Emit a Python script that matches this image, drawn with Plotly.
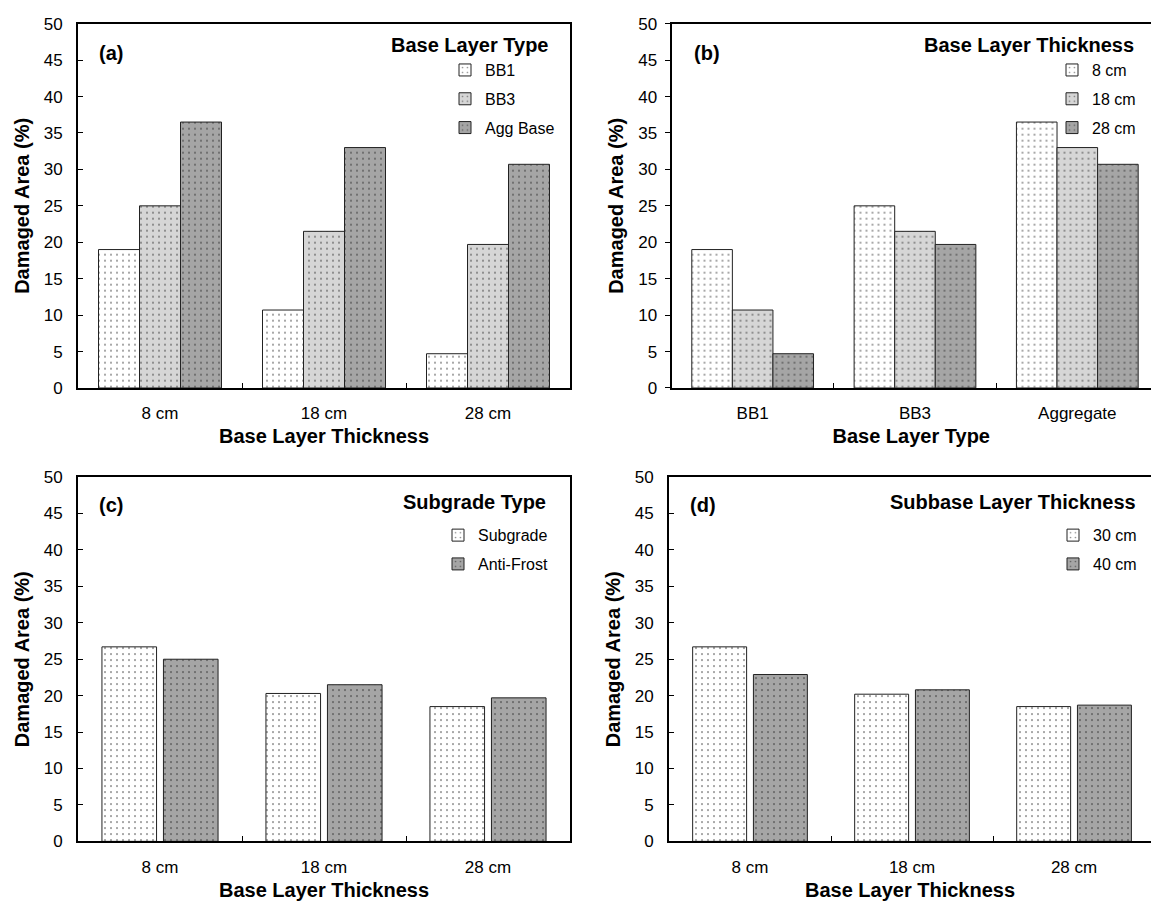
import plotly.graph_objects as go

# ---- data -------------------------------------------------------------
thickness = ["8 cm", "18 cm", "28 cm"]
base_types = ["BB1", "BB3", "Aggregate"]

# (a) damaged area by base layer type, grouped by thickness
a_bb1 = [19.0, 10.7, 4.7]
a_bb3 = [25.0, 21.5, 19.7]
a_agg = [36.5, 33.0, 30.7]

# (b) damaged area by thickness, grouped by base layer type
b_8cm = [19.0, 25.0, 36.5]
b_18cm = [10.7, 21.5, 33.0]
b_28cm = [4.7, 19.7, 30.7]

# (c) subgrade type
c_subgrade = [26.7, 20.3, 18.5]
c_antifrost = [25.0, 21.5, 19.7]

# (d) subbase layer thickness
d_30cm = [26.7, 20.2, 18.5]
d_40cm = [22.9, 20.8, 18.7]

y_ticks = list(range(0, 51, 5))

# ---- styling ----------------------------------------------------------
FONT = "Liberation Sans, Arial, sans-serif"
W, H = 1151, 916
WHITE, LIGHT, DARK = "#ffffff", "#d6d6d6", "#a5a5a5"


def px_x(p):
    return p / W


def px_y(p):
    return 1 - p / H


def bar(x, y, name, color, xaxis, yaxis, legend, group):
    return go.Bar(
        x=x, y=y, name=name, xaxis=xaxis, yaxis=yaxis, legend=legend,
        legendgroup=group,
        marker=dict(
            color=color,
            line=dict(color="#222222", width=1),
            pattern=dict(shape=".", fillmode="overlay", fgcolor="#1a1a1a",
                         bgcolor=color, size=6, solidity=0.09),
        ),
        hoverinfo="x+y+name",
    )


fig = go.Figure()

# (a)
fig.add_trace(bar(thickness, a_bb1, "BB1", WHITE, "x", "y", "legend", "a1"))
fig.add_trace(bar(thickness, a_bb3, "BB3", LIGHT, "x", "y", "legend", "a2"))
fig.add_trace(bar(thickness, a_agg, "Agg Base", DARK, "x", "y", "legend", "a3"))
# (b)
fig.add_trace(bar(base_types, b_8cm, "8 cm", WHITE, "x2", "y2", "legend2", "b1"))
fig.add_trace(bar(base_types, b_18cm, "18 cm", LIGHT, "x2", "y2", "legend2", "b2"))
fig.add_trace(bar(base_types, b_28cm, "28 cm", DARK, "x2", "y2", "legend2", "b3"))
# (c)
fig.add_trace(bar(thickness, c_subgrade, "Subgrade", WHITE, "x3", "y3", "legend3", "c1"))
fig.add_trace(bar(thickness, c_antifrost, "Anti-Frost", DARK, "x3", "y3", "legend3", "c2"))
# (d)
fig.add_trace(bar(thickness, d_30cm, "30 cm", WHITE, "x4", "y4", "legend4", "d1"))
fig.add_trace(bar(thickness, d_40cm, "40 cm", DARK, "x4", "y4", "legend4", "d2"))

tick_font = dict(family=FONT, size=17, color="#000000")
title_font = dict(family=FONT, size=20, color="#000000")


def xaxis(domain, rng, anchor, title):
    return dict(
        domain=domain, range=rng, anchor=anchor, type="category",
        showline=True, linecolor="#000000", linewidth=2, mirror=True,
        ticks="inside", ticklen=5, tickwidth=1, tickcolor="#000000",
        tickson="boundaries", tickfont=tick_font, showgrid=False,
        zeroline=False, ticklabelstandoff=9,
        title=dict(text="<b>" + title + "</b>", font=title_font, standoff=7),
        fixedrange=True,
    )


def yaxis(domain, anchor, ticks, mirror):
    return dict(
        domain=domain, range=[0, 50], anchor=anchor,
        tickvals=y_ticks, showline=True, linecolor="#000000", linewidth=2,
        mirror=mirror, ticks=ticks, ticklen=5, tickwidth=1,
        tickcolor="#000000", tickfont=tick_font, showgrid=False,
        zeroline=False, ticklabelstandoff=4 if ticks == "outside" else 10,
        title=dict(text="<b>Damaged Area (%)</b>", font=title_font, standoff=9),
        fixedrange=True,
    )


top_row = [px_y(387), px_y(15)]
bot_row = [px_y(850), px_y(478)]
left_col = [px_x(78), px_x(570)]

fig.update_layout(
    width=W, height=H,
    margin=dict(l=0, r=0, t=0, b=0),
    paper_bgcolor="#ffffff", plot_bgcolor="#ffffff",
    font=dict(family=FONT, color="#000000"),
    barmode="group",
    bargap=0.25, bargroupgap=0.0,
    xaxis=xaxis(left_col, [-0.5, 2.5], "y", "Base Layer Thickness"),
    yaxis=yaxis(top_row, "x", "inside", True),
    xaxis2=xaxis([px_x(671.5), 1.0], [-0.5, 2.454], "y2", "Base Layer Type"),
    yaxis2=yaxis(top_row, "x2", "outside", False),
    xaxis3=xaxis(left_col, [-0.5, 2.5], "y3", "Base Layer Thickness"),
    yaxis3=yaxis(bot_row, "x3", "inside", True),
    xaxis4=xaxis([px_x(669), 1.0], [-0.5, 2.475], "y4", "Base Layer Thickness"),
    yaxis4=yaxis(bot_row, "x4", "inside", False),
    showlegend=True,
)

legend_common = dict(
    font=dict(family=FONT, size=16, color="#000000"),
    bgcolor="rgba(0,0,0,0)", borderwidth=0,
    traceorder="grouped", tracegroupgap=5,
    xanchor="left", yanchor="top", itemclick=False, itemdoubleclick=False,
)
fig.update_layout(
    legend=dict(x=px_x(445), y=px_y(45), **legend_common),
    legend2=dict(x=px_x(1052), y=px_y(45), **legend_common),
    legend3=dict(x=px_x(438), y=px_y(520), **legend_common),
    legend4=dict(x=px_x(1053), y=px_y(520), **legend_common),
)

# group-width differs between the three-series and two-series panels
for t in fig.data:
    if t.xaxis in ("x3", "x4"):
        t.width = 0.333

# panel labels and headings
notes = [
    ("(a)", px_x(97), px_y(45), "left"),
    ("(b)", px_x(692), px_y(45), "left"),
    ("(c)", px_x(97), px_y(507), "left"),
    ("(d)", px_x(688), px_y(506), "left"),
    ("Base Layer Type", px_x(551), px_y(37), "right"),
    ("Base Layer Thickness", px_x(1136), px_y(37), "right"),
    ("Subgrade Type", px_x(548), px_y(503), "right"),
    ("Subbase Layer Thickness", px_x(1138), px_y(503), "right"),
]
for text, x, y, anchor in notes:
    fig.add_annotation(
        text="<b>" + text + "</b>", x=x, y=y, xref="paper", yref="paper",
        xanchor=anchor, yanchor="middle", showarrow=False,
        font=dict(family=FONT, size=20, color="#000000"),
    )

fig.write_html("out.html")
